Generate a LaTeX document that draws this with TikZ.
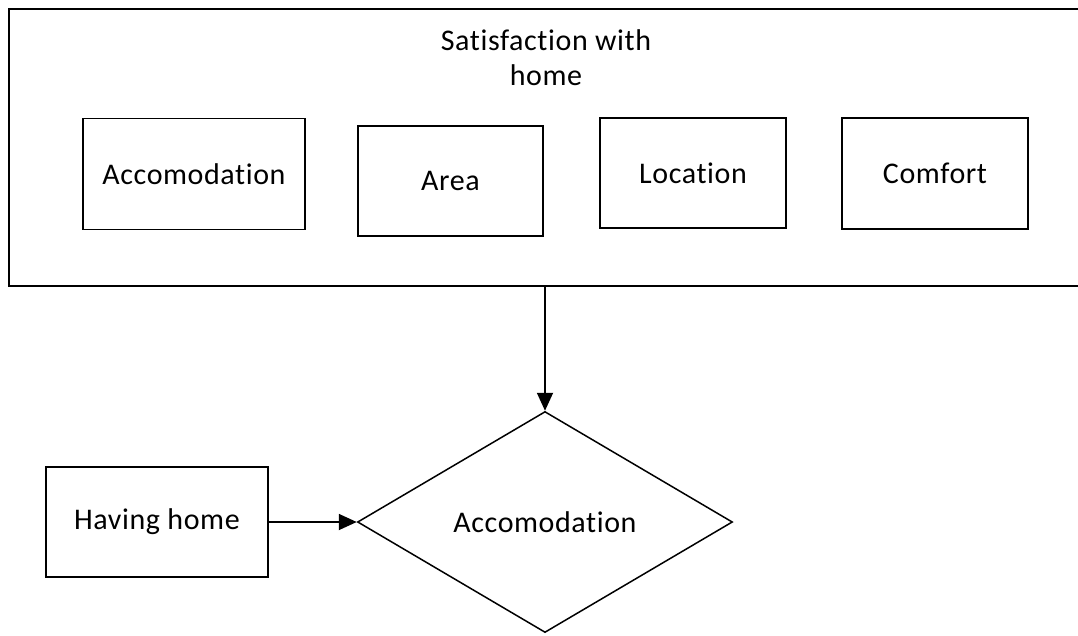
\documentclass[tikz,border=0pt]{standalone}
\usepackage{fontspec}
\setmainfont{Carlito}[Ligatures=NoCommon,LetterSpace=2]
\usetikzlibrary{shapes.geometric,arrows.meta}
\begin{document}
\begin{tikzpicture}[x=1pt,y=-1pt,
  box/.style={draw,line width=1.5pt,rectangle,inner sep=0pt,font=\fontsize{30}{35}\selectfont},
  arr/.style={line width=1.8pt,-{Triangle[length=18pt,width=16pt]}}]
\useasboundingbox (0,0) rectangle (1078,635);
\node[draw,line width=1.5pt,rectangle,inner sep=0pt,minimum width=1070pt,minimum height=277pt] (big) at (544,147.5) {};
\node[align=center,font=\fontsize{30}{35}\selectfont] (title) at (546,58) {Satisfaction with\\home};
\node[box,minimum width=222pt,minimum height=111pt] (acc) at (194,174) {Accomodation};
\node[box,minimum width=185pt,minimum height=110pt] (area) at (450.5,181) {Area};
\node[box,minimum width=186pt,minimum height=110pt] (loc) at (693,173) {Location};
\node[box,minimum width=186pt,minimum height=111pt] (comf) at (935,173.5) {Comfort};
\node[box,minimum width=222pt,minimum height=110pt] (have) at (157,522) {Having home};
\node[box,diamond,aspect=1.7,minimum width=375pt,minimum height=221pt] (dia) at (545,522) {Accomodation};
\draw[arr] (big.south -| dia.north) -- (dia.north);
\draw[arr] (have.east) -- (dia.west);
\end{tikzpicture}
\end{document}
